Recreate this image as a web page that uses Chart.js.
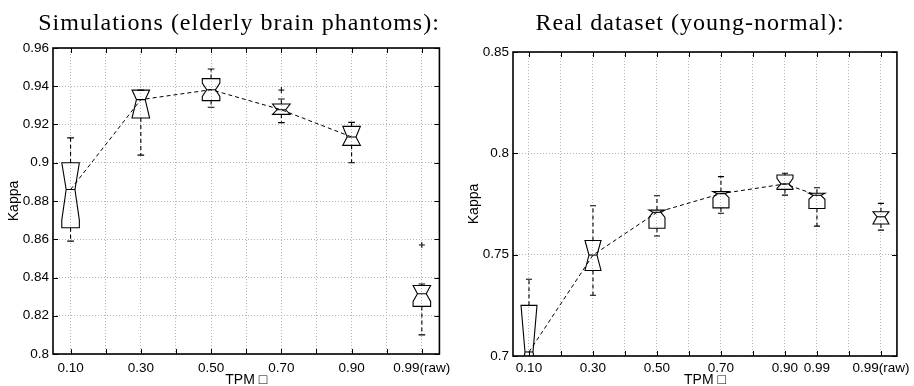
<!DOCTYPE html>
<html>
<head>
<meta charset="utf-8">
<script src="https://cdn.jsdelivr.net/npm/chart.js@4.4.1/dist/chart.umd.min.js"></script>
<style>
  body { margin: 0; background: #fff; width: 914px; height: 386px; overflow: hidden; position: relative; }
  .panel { position: absolute; top: 0; width: 457px; height: 386px; }
  .panel canvas { position: absolute; left: 0; top: 0; }
  .ttl {
    position: absolute; top: 10px; transform: translateX(-50%);
    font-family: 'Liberation Serif', 'Times New Roman', serif; font-size: 24px; line-height: 24px;
    letter-spacing: 1px; white-space: nowrap; color: #000; z-index: 2;
  }
</style>
</head>
<body>
<div class="panel" style="left:0">
  <div class="ttl" style="left:239px">Simulations (elderly brain phantoms):</div>
  <canvas id="chartSim" width="457" height="386"></canvas>
</div>
<div class="panel" style="left:457px">
  <div class="ttl" style="left:233px">Real dataset (young-normal):</div>
  <canvas id="chartReal" width="457" height="386"></canvas>
</div>
<script>
// ---------- Simulations (elderly brain phantoms) ----------
const simPos = [0.1, 0.3, 0.5, 0.7, 0.9, 1.1];
const simTickLabels = ['0.10', '0.30', '0.50', '0.70', '0.90', '0.99(raw)'];
const simGrid = [0.1, 0.2, 0.3, 0.4, 0.5, 0.6, 0.7, 0.8, 0.9, 1.0, 1.1];
const simYTicks = [0.8, 0.82, 0.84, 0.86, 0.88, 0.9, 0.92, 0.94, 0.96];
const simWhiskLo = [0.859, 0.904, 0.929, 0.921, 0.900, 0.810];
const simQ1      = [0.866, 0.9234, 0.9325, 0.9253, 0.9091, 0.8249];
const simNotchLo = [0.870, 0.9234, 0.9347, 0.9253, 0.9091, 0.8275];
const simMedian  = [0.886, 0.933, 0.9382, 0.9277, 0.9135, 0.8315];
const simNotchHi = [0.900, 0.938, 0.9417, 0.9307, 0.919, 0.8358];
const simQ3      = [0.900, 0.938, 0.944, 0.9307, 0.919, 0.8358];
const simWhiskHi = [0.913, 0.938, 0.949, 0.9333, 0.9211, 0.8366];
const simOutX = [0.7, 1.1];
const simOutY = [0.938, 0.857];

// ---------- Real dataset (young-normal) ----------
const realPos = [0.1, 0.3, 0.5, 0.7, 0.9, 1.0, 1.2];
const realTickLabels = ['0.10', '0.30', '0.50', '0.70', '0.90', '0.99', '0.99(raw)'];
const realGrid = [0.1, 0.2, 0.3, 0.4, 0.5, 0.6, 0.7, 0.8, 0.9, 1.0, 1.1, 1.2];
const realYTicks = [0.7, 0.75, 0.8, 0.85];
const realWhiskLo = [0.680, 0.730, 0.7592, 0.7704, 0.7794, 0.7641, 0.7621];
const realQ1      = [0.690, 0.7422, 0.763, 0.7731, 0.7822, 0.7728, 0.7651];
const realNotchLo = [0.678, 0.7422, 0.7684, 0.7781, 0.7827, 0.7773, 0.7651];
const realMedian  = [0.702, 0.7498, 0.7709, 0.7801, 0.7849, 0.7793, 0.7687];
const realNotchHi = [0.725, 0.757, 0.772, 0.7811, 0.7877, 0.7803, 0.7712];
const realQ3      = [0.725, 0.757, 0.772, 0.7811, 0.7893, 0.7803, 0.7712];
const realWhiskHi = [0.7379, 0.7741, 0.7791, 0.7885, 0.7902, 0.783, 0.7753];

const BOX_HALF = 0.025;   // half box width, x units
const CAP_HALF = 0.0095;  // half whisker cap width
const SANS = "'Liberation Sans', Arial, Helvetica, sans-serif";

// notched boxes, whiskers and caps drawn through the chart scales
function notchBoxes(b) {
  return {
    id: 'notchBoxes',
    afterDatasetsDraw(chart) {
      const { ctx, chartArea: a, scales: { x, y } } = chart;
      const Y = v => y.getPixelForValue(v);
      ctx.save();
      ctx.beginPath();
      ctx.rect(a.left, a.top, a.right - a.left, a.bottom - a.top);
      ctx.clip();
      ctx.strokeStyle = '#000';
      ctx.lineWidth = 1.1;
      b.pos.forEach((p, i) => {
        const xc = x.getPixelForValue(p);
        const hw = x.getPixelForValue(p + BOX_HALF) - xc;
        const nw = hw * 0.5;
        const cw = x.getPixelForValue(p + CAP_HALF) - xc;
        // whiskers
        ctx.setLineDash([4, 3]);
        ctx.beginPath();
        ctx.moveTo(xc, Y(b.q3[i])); ctx.lineTo(xc, Y(b.whiskHi[i]));
        ctx.moveTo(xc, Y(b.q1[i])); ctx.lineTo(xc, Y(b.whiskLo[i]));
        ctx.stroke();
        ctx.setLineDash([]);
        ctx.beginPath();
        ctx.moveTo(xc - cw, Y(b.whiskHi[i])); ctx.lineTo(xc + cw, Y(b.whiskHi[i]));
        ctx.moveTo(xc - cw, Y(b.whiskLo[i])); ctx.lineTo(xc + cw, Y(b.whiskLo[i]));
        ctx.stroke();
        // box with notch
        const lo = Math.max(b.notchLo[i], b.q1[i]);
        const hi = Math.min(b.notchHi[i], b.q3[i]);
        const pts = [[-hw, b.q1[i]], [-hw, lo], [-nw, b.median[i]], [-hw, hi], [-hw, b.q3[i]],
                     [hw, b.q3[i]], [hw, hi], [nw, b.median[i]], [hw, lo], [hw, b.q1[i]]];
        ctx.beginPath();
        pts.forEach(([dx, v], k) => k ? ctx.lineTo(xc + dx, Y(v)) : ctx.moveTo(xc + dx, Y(v)));
        ctx.closePath();
        ctx.stroke();
        ctx.beginPath();
        ctx.moveTo(xc - nw, Y(b.median[i])); ctx.lineTo(xc + nw, Y(b.median[i]));
        ctx.stroke();
      });
      ctx.restore();
    }
  };
}

// axes box with inward tick marks (matlab style)
const frame = {
  id: 'frame',
  afterDraw(chart) {
    const { ctx, chartArea: a, scales: { x, y } } = chart;
    ctx.save();
    ctx.strokeStyle = '#000';
    ctx.lineWidth = 1;
    ctx.beginPath();
    x.ticks.forEach(t => {
      const px = Math.round(x.getPixelForValue(t.value)) + 0.5;
      ctx.moveTo(px, a.bottom); ctx.lineTo(px, a.bottom - 5);
      ctx.moveTo(px, a.top); ctx.lineTo(px, a.top + 5);
    });
    y.ticks.forEach(t => {
      const py = Math.round(y.getPixelForValue(t.value)) + 0.5;
      ctx.moveTo(a.left, py); ctx.lineTo(a.left + 5, py);
      ctx.moveTo(a.right, py); ctx.lineTo(a.right - 5, py);
    });
    ctx.stroke();
    ctx.lineWidth = 1.6;
    ctx.strokeRect(a.left, a.top, a.right - a.left, a.bottom - a.top);
    ctx.restore();
  }
};

function makeChart(id, o) {
  const linePts = o.pos.slice(0, o.lineCount).map((p, i) => ({ x: p, y: o.median[i] }));
  const outPts = (o.outX || []).map((v, i) => ({ x: v, y: o.outY[i] }));
  return new Chart(document.getElementById(id), {
    type: 'line',
    data: {
      datasets: [
        {
          data: linePts,
          borderColor: '#000',
          borderWidth: 1,
          borderDash: [4, 3],
          pointRadius: 0,
          tension: 0,
          fill: false,
        },
        {
          type: 'scatter',
          data: outPts,
          pointStyle: 'cross',
          pointRadius: 3,
          borderColor: '#000',
          borderWidth: 1,
          showLine: false,
        },
      ]
    },
    options: {
      responsive: false,
      animation: false,
      devicePixelRatio: 1,
      layout: { padding: { left: 0, right: o.padRight, top: o.padTop, bottom: 0 } },
      plugins: { legend: { display: false }, tooltip: { enabled: false } },
      scales: {
        x: {
          type: 'linear',
          min: o.xMin, max: o.xMax,
          afterBuildTicks: s => { s.ticks = o.grid.map(v => ({ value: v })); },
          afterFit: s => { s.height = o.xHeight; },
          grid: { color: '#b4b4b4', lineWidth: 1, drawTicks: false },
          border: { display: false, dash: [1, 2] },
          ticks: {
            autoSkip: false, maxRotation: 0, padding: o.xTickPad, color: '#000',
            font: { family: SANS, size: 13.5 },
            callback: v => {
              const k = o.pos.findIndex(p => Math.abs(p - v) < 1e-6);
              return k >= 0 ? o.labels[k] : '';
            }
          },
          title: {
            display: true, text: 'TPM \u25A1', color: '#000',
            font: { family: SANS, size: 14, lineHeight: 0.85 },
            padding: { top: 0, bottom: 0 }
          }
        },
        y: {
          min: o.yMin, max: o.yMax,
          afterBuildTicks: s => { s.ticks = o.yTicks.map(v => ({ value: v })); },
          afterFit: s => { s.width = o.yWidth; },
          grid: { color: '#b4b4b4', lineWidth: 1, drawTicks: false },
          border: { display: false, dash: [1, 2] },
          ticks: {
            padding: 4, color: '#000',
            font: { family: SANS, size: 13.5 },
            callback: v => String(v)
          },
          title: {
            display: true, text: 'Kappa', color: '#000',
            font: { family: SANS, size: 14 },
            padding: { top: o.yTitlePad, bottom: 0 }
          }
        }
      }
    },
    plugins: [notchBoxes(o), frame]
  });
}

makeChart('chartSim', {
  pos: simPos, labels: simTickLabels, grid: simGrid, yTicks: simYTicks,
  whiskLo: simWhiskLo, q1: simQ1, notchLo: simNotchLo, median: simMedian,
  notchHi: simNotchHi, q3: simQ3, whiskHi: simWhiskHi,
  outX: simOutX, outY: simOutY, lineCount: 5,
  xMin: 0.05, xMax: 1.15, yMin: 0.8, yMax: 0.96,
  padRight: 14, padTop: 48, xHeight: 32, yWidth: 53, xTickPad: 6, yTitlePad: 6
});

makeChart('chartReal', {
  pos: realPos, labels: realTickLabels, grid: realGrid, yTicks: realYTicks,
  whiskLo: realWhiskLo, q1: realQ1, notchLo: realNotchLo, median: realMedian,
  notchHi: realNotchHi, q3: realQ3, whiskHi: realWhiskHi,
  lineCount: 6,
  xMin: 0.05, xMax: 1.25, yMin: 0.7, yMax: 0.85,
  padRight: 13, padTop: 52, xHeight: 30, yWidth: 56, xTickPad: 4, yTitlePad: 9
});
</script>
</body>
</html>
